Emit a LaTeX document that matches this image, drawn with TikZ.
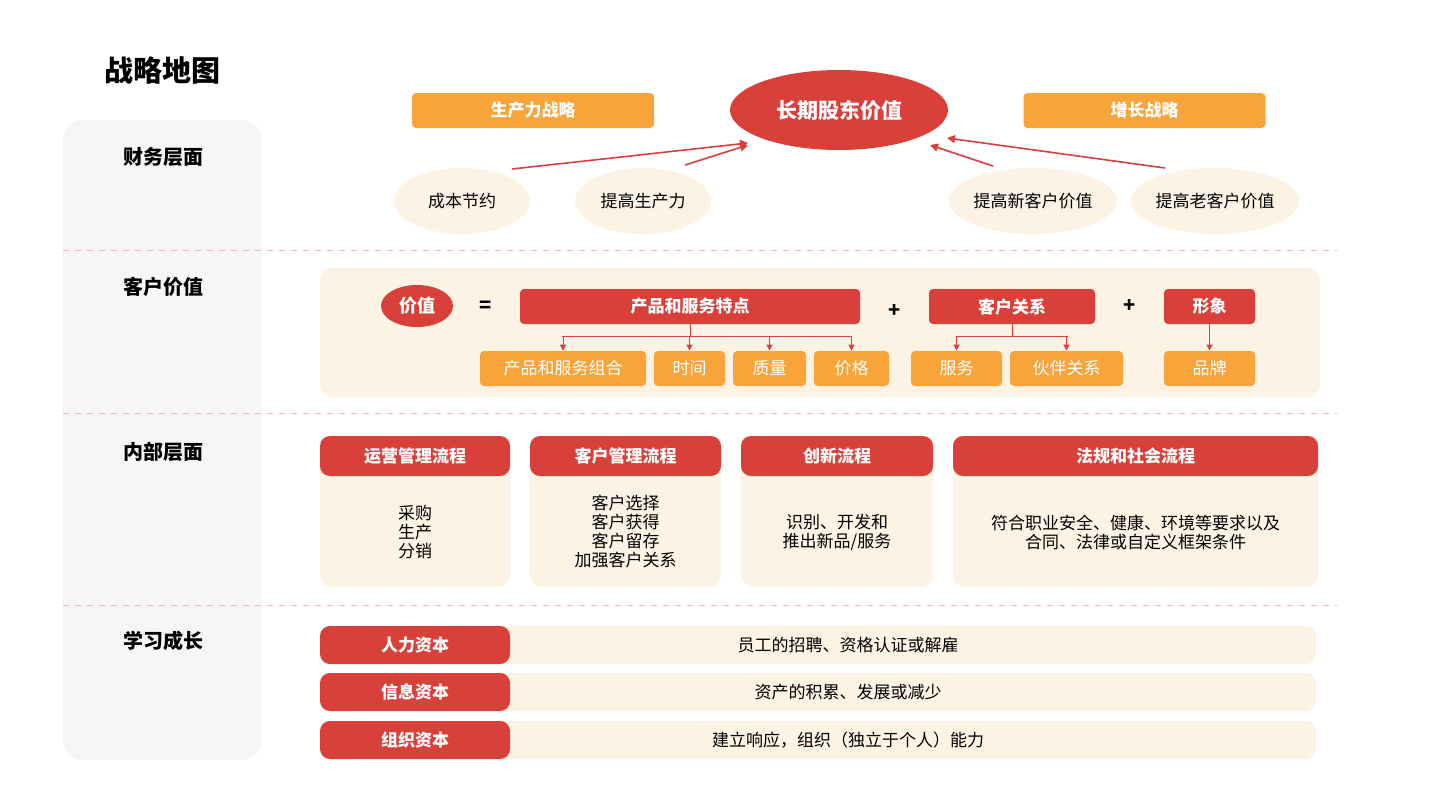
\documentclass[tikz,border=0pt]{standalone}
\usepackage{fontspec}
\setmainfont{Noto Sans CJK SC}
\usetikzlibrary{arrows.meta,shapes.geometric}
\definecolor{myred}{HTML}{D9403A}
\definecolor{myorange}{HTML}{F9A43A}
\definecolor{mycream}{HTML}{FDF3E4}
\definecolor{mygrey}{HTML}{F6F6F6}
\definecolor{mypink}{HTML}{F2B8B0}
\tikzset{
 redbox/.style={fill=myred,rounded corners=2pt,text=white,font=\bfseries\fontsize{8.5}{10}\selectfont},
 orbox/.style={fill=myorange,rounded corners=2pt,text=white,font=\fontsize{8.5}{10}\selectfont},
 cream/.style={fill=mycream,rounded corners=5pt},
 lbl/.style={font=\bfseries\fontsize{10}{12}\selectfont},
 txt/.style={font=\fontsize{8.5}{9.5}\selectfont,align=center},
 arr/.style={myred,line width=0.8pt,-{Triangle[length=4pt,width=4pt]}},
 tree/.style={myred,line width=0.5pt},
 treearr/.style={myred,line width=0.5pt,-{Triangle[length=3pt,width=3pt]}},
 sep/.style={mypink,dashed,line width=0.5pt}
}
\begin{document}
\begin{tikzpicture}[x=0.5pt,y=-0.5pt]
\useasboundingbox (0,0) rectangle (1440,810);
\node[font=\bfseries\fontsize{14.5}{16}\selectfont] (title) at (162,70) {战略地图};
\fill[mygrey,rounded corners=10pt] (63,120) rectangle (262,760);
\node[lbl] (l1) at (163,157) {财务层面};
\node[lbl] (l2) at (163,287) {客户价值};
\node[lbl] (l3) at (163,452) {内部层面};
\node[lbl] (l4) at (163,641) {学习成长};
\draw[sep] (63,250) -- (1337,250);
\draw[sep] (63,413) -- (1337,413);
\draw[sep] (63,605) -- (1337,605);
% finance
\node[orbox,minimum width=121pt,minimum height=17.5pt,font=\bfseries\fontsize{8.5}{10}\selectfont] (prod) at (533,110.5) {生产力战略};
\node[orbox,minimum width=121pt,minimum height=17.5pt,font=\bfseries\fontsize{8.5}{10}\selectfont] (grow) at (1144.5,110.5) {增长战略};
\node[ellipse,fill=myred,minimum width=109pt,minimum height=40pt,inner sep=0pt,text=white,font=\bfseries\fontsize{10.5}{12}\selectfont] (lv) at (839,110) {长期股东价值};
\foreach \n/\x/\t in {c1/462/成本节约,c2/643/提高生产力,c3/1033/提高新客户价值,c4/1215/提高老客户价值}
  \node[ellipse,fill=mycream,minimum width=68pt,minimum height=33pt,inner sep=0pt,txt] (\n) at (\x,201) {\t};
\coordinate (a1) at (512,169); \coordinate (b1) at (748,143);
\coordinate (a2) at (685,165); \coordinate (b2) at (748,145);
\coordinate (a3) at (993,166); \coordinate (b3) at (930,145);
\coordinate (a4) at (1165,168); \coordinate (b4) at (947,138);
\draw[arr] (a1) -- (b1); \draw[arr] (a2) -- (b2); \draw[arr] (a3) -- (b3); \draw[arr] (a4) -- (b4);
% customer
\fill[mycream,rounded corners=6pt] (320,268) rectangle (1320,397);
\node[ellipse,fill=myred,minimum width=36pt,minimum height=21pt,inner sep=0pt,text=white,font=\bfseries\fontsize{9}{10}\selectfont] (val) at (417,306) {价值};
\node[font=\bfseries\fontsize{10}{10}\selectfont] (eq) at (486,307) {=};
\node[font=\bfseries\fontsize{10}{10}\selectfont] (p1) at (895,311) {+};
\node[font=\bfseries\fontsize{10}{10}\selectfont] (p2) at (1130,306) {+};
\node[redbox,minimum width=170pt,minimum height=17.5pt] (ps) at (690,306.5) {产品和服务特点};
\node[redbox,minimum width=83pt,minimum height=17.5pt] (cr) at (1012,306.5) {客户关系};
\node[redbox,minimum width=45.5pt,minimum height=17.5pt] (im) at (1209.5,306.5) {形象};
\foreach \n/\xa/\xb/\t in {s1/480/646/产品和服务组合,s2/654/725/时间,s3/733/806/质量,s4/814/889/价格,s5/911/1002/服务,s6/1010/1123/伙伴关系,s7/1164/1255/品牌}
  \node[orbox,minimum width={(\xb-\xa)/2*1pt},minimum height=17.5pt,inner sep=0pt] (\n) at ({(\xa+\xb)/2},368.5) {\t};
\draw[tree] (ps.south) -- ++(0,12) coordinate (j1);
\draw[tree] (562,336) -- (852,336);
\foreach \n in {s1,s2,s3,s4} \draw[treearr] (\n.north |- j1) -- (\n.north);
\draw[tree] (cr.south) -- ++(0,12) coordinate (j2);
\draw[tree] (957,336) -- (1068,336);
\foreach \n in {s5,s6} \draw[treearr] (\n.north |- j2) -- (\n.north);
\draw[treearr] (im.south) -- (s7.north);
% internal
\foreach \n/\xa/\xb/\t/\b in {i1/320/510/运营管理流程/{采购\\生产\\分销},i2/530/721/客户管理流程/{客户选择\\客户获得\\客户留存\\加强客户关系},i3/741/933/创新流程/{识别、开发和\\推出新品/服务},i4/953/1318/法规和社会流程/{符合职业安全、健康、环境等要求以及\\合同、法律或自定义框架条件}}{
  \fill[mycream,rounded corners=6pt] (\xa,436) rectangle (\xb,587);
  \node[redbox,minimum width={(\xb-\xa)/2*1pt},minimum height=20pt,rounded corners=5pt] (\n) at ({(\xa+\xb)/2},456) {\t};
  \node[txt] (\n b) at ({(\xa+\xb)/2},532) {\b};
}
% learning
\foreach \n/\y/\t/\b in {h1/645/人力资本/员工的招聘、资格认证或解雇,h2/692/信息资本/资产的积累、发展或减少,h3/740/组织资本/建立响应，组织（独立于个人）能力/核心竞争力的发展}{
  \fill[mycream,rounded corners=5pt] (320,{\y-19}) rectangle (1316,{\y+19});
  \node[redbox,minimum width=95pt,minimum height=19pt,rounded corners=5pt] (\n) at (415,\y) {\t};
  \node[txt] (\n b) at (848,\y) {\b};
}
\end{tikzpicture}
\end{document}
